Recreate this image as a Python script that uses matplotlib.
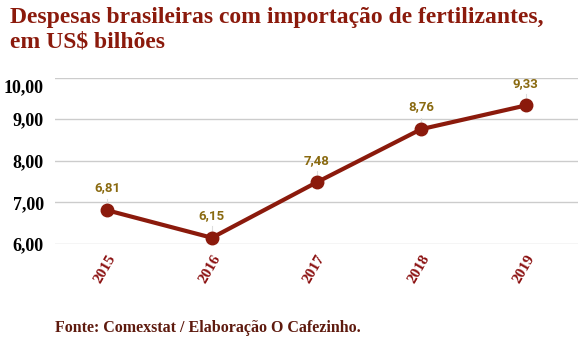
import matplotlib.pyplot as plt

anos = ["2015", "2016", "2017", "2018", "2019"]
valores = [6.81, 6.15, 7.48, 8.76, 9.33]
rotulos = ["6,81", "6,15", "7,48", "8,76", "9,33"]
yticks = [6, 7, 8, 9, 10]
ytick_labels = ["6,00", "7,00", "8,00", "9,00", ""]

cor_linha = "#8b1a0c"
cor_rotulo = "#8a6a10"

fig = plt.figure(figsize=(5.88, 3.52), dpi=100)
ax = fig.add_axes([55/588, 1-244/352, (578-55)/588, (244-77.6)/352])

x = list(range(len(anos)))
ax.plot(x, valores, color=cor_linha, lw=3, marker="o", ms=9, zorder=3, clip_on=False)

for xi, v, r in zip(x, valores, rotulos):
    ax.plot([xi, xi], [v + 0.1, v + 0.28], color="#dddddd", lw=0.8, zorder=2, clip_on=False)
    ax.annotate(r, (xi, v), xytext=(0, 16), textcoords="offset points", ha="center",
                va="center", fontsize=9.5, fontweight="bold", family="Roboto", color=cor_rotulo)

ax.set_xlim(-0.5, 4.5)
ax.set_ylim(6, 10)
ax.set_yticks(yticks)
ax.set_yticklabels(ytick_labels, fontsize=13, fontweight="bold", family="Liberation Serif", color="black")
# o rotulo 10,00 fica um pouco abaixo da linha de grade
ax.set_yticks([9.8], minor=True)
ax.set_yticklabels(["10,00"], minor=True, fontsize=13, fontweight="bold",
                   family="Liberation Serif", color="black")
ax.set_xticks(x)
ax.set_xticklabels(anos, rotation=60, fontsize=11, fontweight="bold", family="Liberation Serif",
                   color="#8b1010", ha="right", rotation_mode="anchor")

ax.tick_params(axis="both", which="both", length=0, pad=8)
ax.tick_params(axis="x", pad=6)
ax.grid(axis="y", which="major", color="#cccccc", lw=1)
ax.set_axisbelow(True)
for s in ax.spines.values():
    s.set_visible(False)

fig.text(10/588, 1-7/352, "Despesas brasileiras com importação de fertilizantes,\nem US$ bilhões",
         ha="left", va="top", fontsize=17, fontweight="bold", family="Liberation Serif",
         color=cor_linha, linespacing=1.2)
fig.text(55/588, 1-328/352, "Fonte: Comexstat / Elaboração O Cafezinho.", ha="left", va="center",
         fontsize=11.5, fontweight="bold", family="Liberation Serif", color="#5e1a0e")

fig.savefig("out.png", dpi=100)
